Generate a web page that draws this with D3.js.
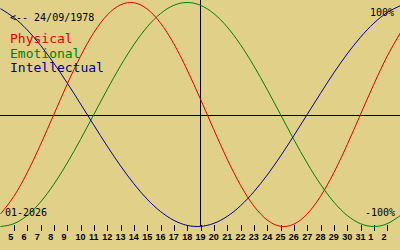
<!DOCTYPE html>
<html><head><meta charset="utf-8">
<script src="https://cdn.jsdelivr.net/npm/d3@7/dist/d3.min.js"></script>
<style>html,body{margin:0;padding:0;background:#e0d088;}svg{display:block;}</style>
</head><body><svg id="c" width="400" height="250"></svg>
<script>
// Days shown (January 2026 day numbers, continuing past 31 into February)
const days = [4,5,6,7,8,9,10,11,12,13,14,15,16,17,18,19,20,21,22,23,24,25,26,27,28,29,30,31,32,33,34];
const physical = [-0.888,-0.731,-0.520,-0.270,0,0.270,0.520,0.731,0.888,0.979,0.998,0.942,0.817,0.631,0.398,0.136,-0.136,-0.398,-0.631,-0.817,-0.942,-0.998,-0.979,-0.888,-0.731,-0.520,-0.270,0,0.270,0.520,0.731];
const emotional = [-1,-0.975,-0.901,-0.782,-0.623,-0.434,-0.223,0,0.223,0.434,0.623,0.782,0.901,0.975,1,0.975,0.901,0.782,0.623,0.434,0.223,0,-0.223,-0.434,-0.623,-0.782,-0.901,-0.975,-1,-0.975,-0.901];
const intellectual = [0.945,0.866,0.756,0.618,0.458,0.282,0.095,-0.095,-0.282,-0.458,-0.618,-0.756,-0.866,-0.945,-0.990,-0.999,-0.972,-0.910,-0.815,-0.690,-0.541,-0.372,-0.189,0,0.189,0.372,0.541,0.690,0.815,0.910,0.972];
const tickDays = [5,6,7,8,9,10,11,12,13,14,15,16,17,18,19,20,21,22,23,24,25,26,27,28,29,30,31,32,33];
const tickLabels = ["5","6","7","8","9","10","11","12","13","14","15","16","17","18","19","20","21","22","23","24","25","26","27","28","29","30","31","1","2"];
const seriesNames = ["Physical","Emotional","Intellectual"];
const birthLabel = "<-- 24/09/1978";
const monthLabel = "01-2026";
const topLabel = "100%";
const bottomLabel = "-100%";
const today = 19;

const svg = d3.select("#c");
const x = d3.scaleLinear().domain([4,34]).range([0.5,400.5]);
const y = d3.scaleLinear().domain([-1,1]).range([226.5,2.5]);
const colors = ["#e00000","#008000","#000090"];
const series = [physical, emotional, intellectual];

svg.append("rect").attr("width",400).attr("height",250).attr("fill","#e0d088");

// center line
svg.append("line").attr("x1",0).attr("x2",400).attr("y1",y(0)+0.75).attr("y2",y(0)+0.75)
  .attr("stroke","#000").attr("stroke-width",1).attr("shape-rendering","crispEdges");
// today line
svg.append("line").attr("x1",x(today)).attr("x2",x(today)).attr("y1",0).attr("y2",226)
  .attr("stroke","#000").attr("stroke-width",1).attr("shape-rendering","crispEdges");

// ticks
const axis = d3.axisBottom(x).tickValues(tickDays).tickSize(6)
  .tickFormat((d,i)=>tickLabels[i]);
const ag = svg.append("g").attr("transform","translate(0,225)").call(axis);
ag.select(".domain").remove();
ag.selectAll(".tick line").attr("stroke","#000").attr("shape-rendering","crispEdges");
ag.selectAll(".tick text")
  .attr("font-family","'Liberation Sans', Arial, sans-serif").attr("font-size","9px").attr("font-weight","bold")
  .attr("fill","#000").attr("y",15).attr("dy",0)
  .attr("dx",(d,i)=>tickLabels[i].length===1?-3.7:-0.5);

// curves
const line = d3.line().x((d,i)=>x(days[i])).y(d=>y(d)).curve(d3.curveNatural);
series.forEach((s,k)=>{
  svg.append("path").attr("d",line(s)).attr("fill","none").attr("stroke",colors[k]).attr("stroke-width",1);
});

// texts
const mono = "'DejaVu Sans Mono', 'Liberation Mono', monospace";
svg.append("text").attr("x",10).attr("y",21).attr("font-family",mono).attr("font-size","10px").attr("fill","#000").text(birthLabel);
seriesNames.forEach((n,k)=>{
  svg.append("text").attr("x",10).attr("y",43+k*14.5).attr("font-family",mono).attr("font-size","13px").attr("fill",colors[k]).text(n);
});
svg.append("text").attr("x",5).attr("y",216).attr("font-family",mono).attr("font-size","10px").attr("fill","#000").text(monthLabel);
svg.append("text").attr("x",394).attr("y",16).attr("text-anchor","end").attr("font-family",mono).attr("font-size","10px").attr("fill","#000").text(topLabel);
svg.append("text").attr("x",395).attr("y",216).attr("text-anchor","end").attr("font-family",mono).attr("font-size","10px").attr("fill","#000").text(bottomLabel);
</script></body></html>
